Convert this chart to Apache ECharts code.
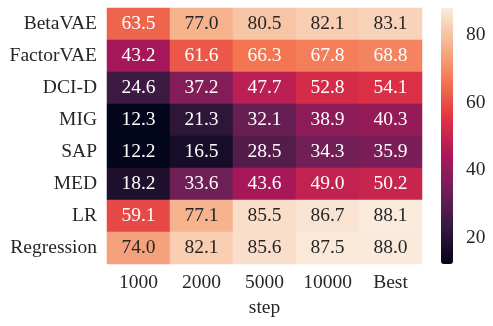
<!DOCTYPE html>
<html lang="en">
<head>
    <meta charset="UTF-8">
    <title>step heatmap</title>
    <style type="text/css">
        body {
            margin: 0;
            background: #fff;
        }

        #chart {
            width: 493px;
            height: 326px;
        }
    </style>
    <script type="text/javascript" src="https://cdn.jsdelivr.net/npm/echarts@6/dist/echarts.min.js"></script>
</head>
<body>
    <div id="chart"></div>
</body>
</html>
<script type="text/javascript">
    var steps = ['1000', '2000', '5000', '10000', 'Best'];
    var metrics = ['BetaVAE', 'FactorVAE', 'DCI-D', 'MIG', 'SAP', 'MED', 'LR', 'Regression'];
    var betaVAE = [63.5, 77.0, 80.5, 82.1, 83.1];
    var factorVAE = [43.2, 61.6, 66.3, 67.8, 68.8];
    var dciD = [24.6, 37.2, 47.7, 52.8, 54.1];
    var mig = [12.3, 21.3, 32.1, 38.9, 40.3];
    var sap = [12.2, 16.5, 28.5, 34.3, 35.9];
    var med = [18.2, 33.6, 43.6, 49.0, 50.2];
    var lr = [59.1, 77.1, 85.5, 86.7, 88.1];
    var regression = [74.0, 82.1, 85.6, 87.5, 88.0];
    var colorTicks = [20, 40, 60, 80];

    var rows = [betaVAE, factorVAE, dciD, mig, sap, med, lr, regression];
    var serif = '"Liberation Serif", "DejaVu Serif", serif';
    var ink = '#262626';
    var fs = 19.5;

    var vMin = Infinity, vMax = -Infinity;
    var cells = [];
    for (var i = 0; i < rows.length; i++) {
        for (var j = 0; j < rows[i].length; j++) {
            var v = rows[i][j];
            if (v < vMin) vMin = v;
            if (v > vMax) vMax = v;
            cells.push({
                value: [j, i, v],
                label: { color: v > 70 ? ink : '#ffffff' }
            });
        }
    }

    var chart = echarts.init(document.getElementById('chart'));
    chart.setOption({
        animation: false,
        grid: [{
            left: 107, top: 8, width: 315, height: 256
        }, {
            left: 441, top: 8, width: 12, height: 256
        }],
        xAxis: [{
            type: 'category',
            gridIndex: 0,
            data: steps,
            axisLine: { show: false },
            axisTick: { show: false },
            axisLabel: {
                interval: 0, hideOverlap: false, margin: 9,
                fontFamily: serif, fontSize: fs, color: ink
            },
            name: 'step',
            nameLocation: 'middle',
            nameGap: 33,
            nameTextStyle: { fontFamily: serif, fontSize: fs, color: ink }
        }, {
            type: 'value',
            gridIndex: 1,
            show: false
        }],
        yAxis: [{
            type: 'category',
            gridIndex: 0,
            data: metrics,
            inverse: true,
            axisLine: { show: false },
            axisTick: { show: false },
            axisLabel: { interval: 0, margin: 10, fontFamily: serif, fontSize: fs, color: ink }
        }, {
            type: 'value',
            gridIndex: 1,
            position: 'right',
            min: vMin,
            max: vMax,
            splitLine: { show: false },
            axisLine: { show: false },
            axisTick: {
                show: true, length: 6, customValues: colorTicks,
                lineStyle: { color: ink, width: 1 }
            },
            axisLabel: {
                margin: 13, customValues: colorTicks,
                fontFamily: serif, fontSize: fs, color: ink
            }
        }],
        visualMap: {
            type: 'continuous',
            min: vMin,
            max: vMax,
            seriesIndex: 0,
            dimension: 2,
            calculable: false,
            itemWidth: 12,
            itemHeight: 256,
            left: 441,
            top: 8,
            padding: 0,
            text: ['', ''],
            inRange: {
                color: ['#03051a', '#35193e', '#701f57', '#ad1759', '#e13342', '#f37651', '#f6b48f', '#faebdd']
            }
        },
        series: [{
            type: 'heatmap',
            xAxisIndex: 0,
            yAxisIndex: 0,
            data: cells,
            label: {
                show: true,
                fontFamily: serif,
                fontSize: fs,
                formatter: function (p) { return p.value[2].toFixed(1); }
            },
            emphasis: { disabled: true }
        }]
    });
</script>
